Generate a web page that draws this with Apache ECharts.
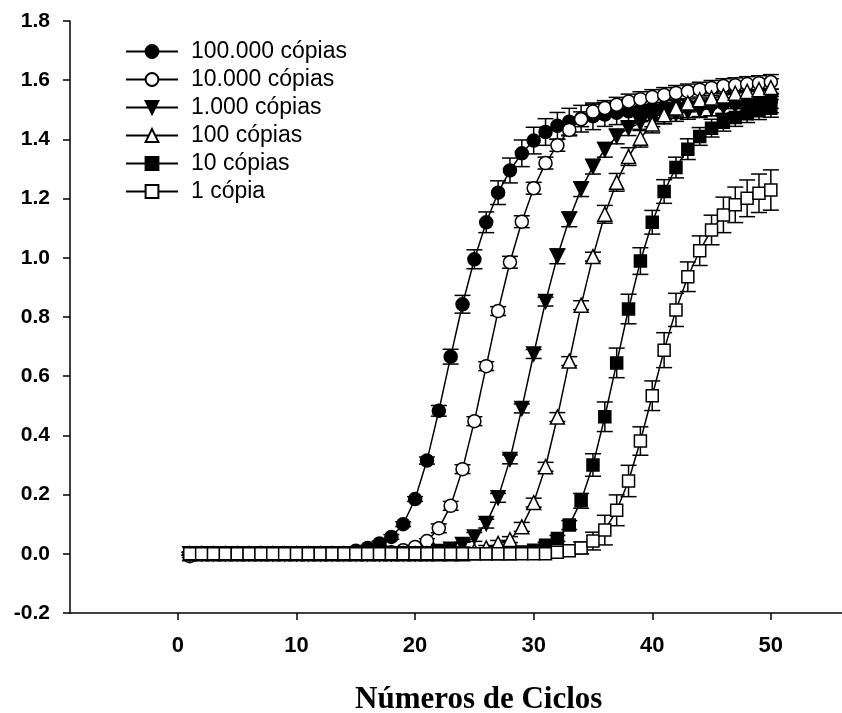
<!DOCTYPE html>
<html>
<head>
<meta charset="utf-8">
<script src="https://cdn.jsdelivr.net/npm/echarts@6/dist/echarts.min.js"></script>
<style>
  html, body { margin: 0; padding: 0; background: #fff; }
  #chart { width: 842px; height: 713px; }
</style>
</head>
<body>
<div id="chart"></div>
<script>
// ciclos (eixo x)
var cycles = [1, 2, 3, 4, 5, 6, 7, 8, 9, 10, 11, 12, 13, 14, 15, 16, 17, 18, 19, 20,
  21, 22, 23, 24, 25, 26, 27, 28, 29, 30, 31, 32, 33, 34, 35, 36, 37, 38, 39, 40,
  41, 42, 43, 44, 45, 46, 47, 48, 49, 50];
var xTicks = [0, 10, 20, 30, 40, 50];

var names = ['100.000 cópias', '10.000 cópias', '1.000 cópias', '100 cópias', '10 cópias', '1 cópia'];

// fluorescencia media
var c100000 = [0, 0, 0, 0, 0, 0, 0, 0, 0, 0, 0, 0, 0, 0, 0.01, 0.02, 0.035, 0.057, 0.10, 0.185,
  0.315, 0.483, 0.666, 0.843, 0.995, 1.12, 1.22, 1.295, 1.353, 1.396, 1.425, 1.446, 1.46, 1.47, 1.478, 1.484, 1.49, 1.495, 1.50, 1.504,
  1.508, 1.511, 1.514, 1.517, 1.52, 1.522, 1.524, 1.526, 1.528, 1.53];
var c10000 = [-0.008, 0, 0, 0, 0, 0, 0, 0, 0, 0, 0, 0, 0, 0, 0, 0, 0, 0.005, 0.012, 0.023,
  0.043, 0.086, 0.162, 0.286, 0.448, 0.634, 0.82, 0.985, 1.122, 1.235, 1.32, 1.38, 1.432, 1.468, 1.494, 1.506, 1.517, 1.528, 1.536, 1.543,
  1.55, 1.557, 1.562, 1.568, 1.574, 1.58, 1.583, 1.587, 1.59, 1.594];
var c1000 = [0, 0, 0, 0, 0, 0, 0, 0, 0, 0, 0, 0, 0, 0, 0, 0, 0, 0, 0, 0,
  0, 0.008, 0.015, 0.031, 0.057, 0.102, 0.189, 0.319, 0.491, 0.675, 0.852, 1.005, 1.13, 1.232, 1.308, 1.365, 1.41, 1.438, 1.455, 1.468,
  1.478, 1.486, 1.493, 1.499, 1.505, 1.51, 1.515, 1.52, 1.525, 1.53];
var c100 = [0, 0, 0, 0, 0, 0, 0, 0, 0, 0, 0, 0, 0, 0, 0, 0, 0, 0, 0, 0,
  0, 0, 0, 0, 0.01, 0.02, 0.035, 0.048, 0.091, 0.173, 0.294, 0.462, 0.651, 0.84, 1.004, 1.147, 1.255, 1.342, 1.404, 1.452,
  1.483, 1.506, 1.523, 1.534, 1.54, 1.547, 1.556, 1.562, 1.568, 1.575];
var c10 = [0, 0, 0, 0, 0, 0, 0, 0, 0, 0, 0, 0, 0, 0, 0, 0, 0, 0, 0, 0,
  0, 0, 0, 0, 0, 0, 0, 0, 0.006, 0.012, 0.029, 0.052, 0.097, 0.179, 0.30, 0.463, 0.645, 0.827, 0.989, 1.12,
  1.224, 1.305, 1.367, 1.41, 1.438, 1.458, 1.474, 1.487, 1.497, 1.505];
var c1 = [0, 0, 0, 0, 0, 0, 0, 0, 0, 0, 0, 0, 0, 0, 0, 0, 0, 0, 0, 0,
  0, 0, 0, 0, 0, 0, 0, 0, 0, 0, 0, 0.005, 0.01, 0.02, 0.043, 0.08, 0.147, 0.246, 0.381, 0.534,
  0.688, 0.824, 0.936, 1.024, 1.094, 1.145, 1.179, 1.201, 1.218, 1.229];

// desvio (barras de erro)
var e100000 = [0.005, 0.005, 0.005, 0.005, 0.005, 0.005, 0.005, 0.005, 0.005, 0.005, 0.005, 0.005, 0.005, 0.005, 0.008, 0.008, 0.008, 0.008, 0.008, 0.008,
  0.012, 0.018, 0.025, 0.03, 0.032, 0.035, 0.04, 0.042, 0.045, 0.045, 0.045, 0.045, 0.045, 0.045, 0.045, 0.04, 0.04, 0.04, 0.04, 0.04,
  0.04, 0.04, 0.04, 0.04, 0.04, 0.04, 0.04, 0.04, 0.04, 0.04];
var e10000 = [0.005, 0.005, 0.005, 0.005, 0.005, 0.005, 0.005, 0.005, 0.005, 0.005, 0.005, 0.005, 0.005, 0.005, 0.005, 0.005, 0.005, 0.005, 0.005, 0.005,
  0.008, 0.015, 0.015, 0.015, 0.015, 0.015, 0.015, 0.02, 0.02, 0.02, 0.02, 0.02, 0.02, 0.025, 0.025, 0.025, 0.025, 0.025, 0.025, 0.025,
  0.025, 0.025, 0.025, 0.025, 0.025, 0.025, 0.025, 0.025, 0.025, 0.025];
var e1000 = [0.005, 0.005, 0.005, 0.005, 0.005, 0.005, 0.005, 0.005, 0.005, 0.005, 0.005, 0.005, 0.005, 0.005, 0.005, 0.005, 0.005, 0.005, 0.005, 0.005,
  0.005, 0.005, 0.005, 0.008, 0.015, 0.015, 0.015, 0.015, 0.015, 0.015, 0.015, 0.025, 0.025, 0.025, 0.025, 0.025, 0.025, 0.025, 0.025, 0.025,
  0.025, 0.025, 0.025, 0.025, 0.025, 0.025, 0.025, 0.025, 0.025, 0.025];
var e100 = [0.005, 0.005, 0.005, 0.005, 0.005, 0.005, 0.005, 0.005, 0.005, 0.005, 0.005, 0.005, 0.005, 0.005, 0.005, 0.005, 0.005, 0.005, 0.005, 0.005,
  0.005, 0.005, 0.005, 0.005, 0.005, 0.008, 0.01, 0.01, 0.015, 0.015, 0.015, 0.015, 0.015, 0.015, 0.015, 0.03, 0.03, 0.03, 0.03, 0.03,
  0.03, 0.03, 0.03, 0.03, 0.03, 0.03, 0.03, 0.03, 0.03, 0.03];
var e10 = [0.005, 0.005, 0.005, 0.005, 0.005, 0.005, 0.005, 0.005, 0.005, 0.005, 0.005, 0.005, 0.005, 0.005, 0.005, 0.005, 0.005, 0.005, 0.005, 0.005,
  0.005, 0.005, 0.005, 0.005, 0.005, 0.005, 0.005, 0.005, 0.005, 0.008, 0.01, 0.01, 0.015, 0.025, 0.038, 0.05, 0.05, 0.05, 0.045, 0.04,
  0.04, 0.035, 0.035, 0.03, 0.03, 0.03, 0.03, 0.03, 0.03, 0.03];
var e1 = [0.005, 0.005, 0.005, 0.005, 0.005, 0.005, 0.005, 0.005, 0.005, 0.005, 0.005, 0.005, 0.005, 0.005, 0.005, 0.005, 0.005, 0.005, 0.005, 0.005,
  0.005, 0.005, 0.005, 0.005, 0.005, 0.005, 0.005, 0.005, 0.005, 0.005, 0.005, 0.008, 0.01, 0.02, 0.03, 0.05, 0.052, 0.053, 0.048, 0.05,
  0.059, 0.056, 0.05, 0.05, 0.05, 0.06, 0.06, 0.062, 0.065, 0.068];

var values = [c100000, c10000, c1000, c100, c10, c1];
var errors = [e100000, e10000, e1000, e100, e10, e1];

// marcador de cada serie: simbolo, preenchimento, rotacao, tamanho
var marks = [
  ['circle', '#000', 0, 13],
  ['circle', '#fff', 0, 13],
  ['triangle', '#000', 180, 14],
  ['triangle', '#fff', 0, 14],
  ['rect', '#000', 0, 12],
  ['rect', '#fff', 0, 12]
];

var chart = echarts.init(document.getElementById('chart'));

function errorBar(params, api) {
  var x = api.value(0), y = api.value(1), e = api.value(2);
  var hi = api.coord([x, y + e]), lo = api.coord([x, y - e]);
  var w = 8;
  var st = { stroke: '#000', lineWidth: 1.5 };
  return {
    type: 'group',
    children: [
      { type: 'line', shape: { x1: hi[0], y1: hi[1], x2: lo[0], y2: lo[1] }, style: st },
      { type: 'line', shape: { x1: hi[0] - w, y1: hi[1], x2: hi[0] + w, y2: hi[1] }, style: st },
      { type: 'line', shape: { x1: lo[0] - w, y1: lo[1], x2: lo[0] + w, y2: lo[1] }, style: st }
    ]
  };
}

var series = [];
values.forEach(function (vals, i) {
  var m = marks[i];
  series.push({
    type: 'custom',
    renderItem: errorBar,
    data: cycles.map(function (c, k) { return [c, vals[k], errors[i][k]]; }),
    silent: true
  });
  series.push({
    name: names[i],
    type: 'line',
    data: cycles.map(function (c, k) { return [c, vals[k]]; }),
    symbol: m[0],
    symbolSize: m[3],
    symbolRotate: m[2],
    showAllSymbol: true,
    lineStyle: { color: '#000', width: 1.5 },
    itemStyle: { color: m[1], borderColor: '#000', borderWidth: 1.5, opacity: 1 },
    emphasis: { disabled: true }
  });
});

chart.setOption({
  animation: false,
  backgroundColor: '#fff',
  grid: { left: 70, top: 21, width: 773.5, height: 592 },
  legend: {
    orient: 'vertical',
    left: 125,
    top: 40,
    padding: 0,
    itemWidth: 52,
    itemHeight: 16,
    itemGap: 5,
    selectedMode: false,
    textStyle: { fontFamily: 'Liberation Sans', fontSize: 23, color: '#000', padding: [0, 0, 0, 8] },
    data: names
  },
  xAxis: {
    type: 'value',
    min: -9.1,
    max: 56,
    axisLine: { onZero: false, lineStyle: { color: '#000', width: 1.5 } },
    axisTick: { show: true, length: 7, customValues: xTicks, lineStyle: { color: '#000', width: 1.5 } },
    axisLabel: {
      customValues: xTicks,
      margin: 22,
      fontFamily: 'Liberation Sans', fontWeight: 'bold', fontSize: 22, color: '#000'
    },
    splitLine: { show: false }
  },
  yAxis: {
    type: 'value',
    min: -0.2,
    max: 1.8,
    interval: 0.2,
    axisLine: { show: true, onZero: false, lineStyle: { color: '#000', width: 1.5 } },
    axisTick: { show: true, length: 7, lineStyle: { color: '#000', width: 1.5 } },
    axisLabel: {
      margin: 20,
      fontFamily: 'Liberation Sans', fontWeight: 'bold', fontSize: 21, color: '#000',
      formatter: function (v) { return v.toFixed(1); }
    },
    splitLine: { show: false }
  },
  graphic: [{
    type: 'text',
    left: 481 - 126,
    top: 684,
    style: {
      text: 'Números de Ciclos',
      fontFamily: 'Liberation Serif', fontWeight: 'bold', fontSize: 31, fill: '#000'
    }
  }],
  series: series
});
</script>
</body>
</html>
